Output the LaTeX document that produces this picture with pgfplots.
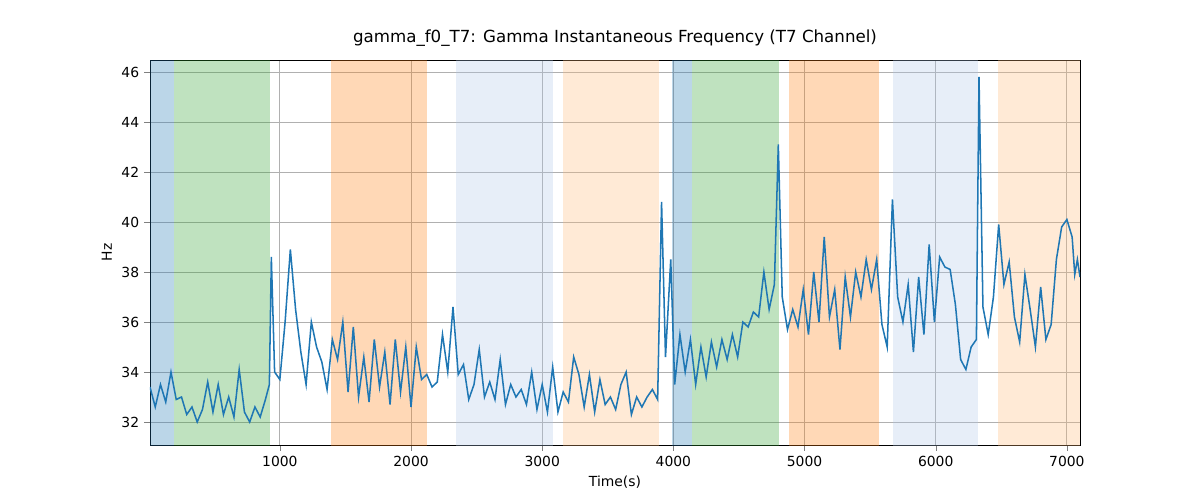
\documentclass[border=0pt]{standalone}
\usepackage{pgfplots}
\pgfplotsset{compat=1.18}
\usepackage{fontspec}
\setmainfont{DejaVu Sans}
\definecolor{tb}{HTML}{1F77B4}
\definecolor{tg}{HTML}{2CA02C}
\definecolor{to}{HTML}{FF7F0E}
\definecolor{lb}{HTML}{AEC7E8}
\definecolor{lo}{HTML}{FFBB78}
\begin{document}
\begin{tikzpicture}
\begin{axis}[at={(0,0)},anchor=south west,scale only axis,width=669.6pt,height=277.2pt,
xmin=10,xmax=7100,ymin=31.08,ymax=46.48,
xtick={1000,2000,3000,4000,5000,6000,7000},ytick={32,34,36,38,40,42,44,46},
grid=major,grid style={color=black!31,line width=0.6pt},
tick label style={font=\fontsize{10}{12}\selectfont},
/pgf/number format/assume math mode=true,
/pgf/number format/set thousands separator={},
xlabel={Time(s)},ylabel={Hz},
label style={font=\fontsize{10}{12}\selectfont},
title={gamma\_f0\_T7: Gamma Instantaneous Frequency (T7 Channel)},
title style={font=\fontsize{12}{14}\selectfont},
tick align=outside,tick pos=left]
\fill[tb,opacity=0.3] (axis cs:10,30) rectangle (axis cs:193,47);
\fill[tg,opacity=0.3] (axis cs:193,30) rectangle (axis cs:924,47);
\fill[to,opacity=0.3] (axis cs:1389,30) rectangle (axis cs:2122,47);
\fill[lb,opacity=0.3] (axis cs:2344,30) rectangle (axis cs:3084,47);
\fill[lo,opacity=0.3] (axis cs:3160,30) rectangle (axis cs:3893,47);
\fill[tb,opacity=0.3] (axis cs:3992,30) rectangle (axis cs:4145,47);
\fill[tg,opacity=0.3] (axis cs:4145,30) rectangle (axis cs:4802,47);
\fill[to,opacity=0.3] (axis cs:4878,30) rectangle (axis cs:5565,47);
\fill[lb,opacity=0.3] (axis cs:5672,30) rectangle (axis cs:6321,47);
\fill[lo,opacity=0.3] (axis cs:6473,30) rectangle (axis cs:7100,47);
\addplot[tb,line width=1.1pt,mark=none] coordinates {
(10,33.4)(50,32.6)(90,33.5)(130,32.8)(170,34.0)(210,32.9)(250,33.0)(290,32.3)(330,32.6)(370,32.0)(410,32.5)(450,33.6)(490,32.4)(530,33.5)(570,32.3)(610,33.0)(650,32.2)(690,34.1)(730,32.4)(770,32.0)(810,32.6)(850,32.2)(890,32.9)(920,33.5)(935,38.6)(960,34.0)(1000,33.7)(1040,36.0)(1080,38.9)(1120,36.5)(1160,34.8)(1200,33.5)(1240,36.0)(1280,35.0)(1320,34.4)(1360,33.3)(1400,35.3)(1440,34.5)(1480,36.0)(1520,33.2)(1560,35.8)(1600,33.0)(1640,34.6)(1680,32.8)(1720,35.3)(1760,33.4)(1800,34.8)(1840,32.7)(1880,35.3)(1920,33.2)(1960,35.0)(2000,32.6)(2040,35.0)(2080,33.7)(2120,33.9)(2160,33.4)(2200,33.6)(2240,35.5)(2280,34.0)(2320,36.6)(2360,33.9)(2400,34.3)(2440,32.9)(2480,33.5)(2520,34.9)(2560,33.0)(2600,33.6)(2640,32.9)(2680,34.5)(2720,32.7)(2760,33.5)(2800,33.0)(2840,33.3)(2880,32.7)(2920,34.0)(2960,32.5)(3000,33.5)(3040,32.4)(3080,34.2)(3120,32.4)(3160,33.2)(3200,32.8)(3240,34.6)(3280,33.9)(3320,32.6)(3360,33.9)(3400,32.4)(3440,33.7)(3480,32.7)(3520,33.0)(3560,32.5)(3600,33.5)(3640,34.0)(3680,32.3)(3720,33.0)(3760,32.6)(3800,33.0)(3840,33.3)(3880,32.9)(3910,40.8)(3940,34.6)(3980,38.5)(4010,33.5)(4050,35.5)(4090,34.0)(4130,35.3)(4170,33.5)(4210,35.0)(4250,33.8)(4290,35.2)(4330,34.2)(4370,35.3)(4410,34.5)(4450,35.5)(4490,34.6)(4530,36.0)(4570,35.8)(4610,36.4)(4650,36.2)(4690,38.0)(4730,36.5)(4770,37.5)(4800,43.1)(4830,37.0)(4870,35.7)(4910,36.5)(4950,35.8)(4990,37.3)(5030,35.5)(5070,38.0)(5110,36.0)(5150,39.4)(5190,36.2)(5230,37.3)(5270,34.9)(5310,37.8)(5350,36.2)(5390,38.0)(5430,37.0)(5470,38.5)(5510,37.3)(5550,38.5)(5590,35.9)(5630,35.0)(5670,40.9)(5710,37.0)(5750,36.0)(5790,37.5)(5830,34.8)(5870,37.8)(5910,35.5)(5950,39.1)(5990,36.0)(6030,38.6)(6070,38.2)(6110,38.1)(6150,36.7)(6190,34.5)(6230,34.1)(6270,35.0)(6310,35.3)(6330,45.8)(6360,36.6)(6400,35.5)(6440,37.0)(6480,39.9)(6520,37.5)(6560,38.4)(6600,36.2)(6640,35.2)(6680,37.9)(6720,36.5)(6760,35.0)(6800,37.4)(6840,35.3)(6880,35.9)(6920,38.5)(6960,39.8)(7000,40.1)(7040,39.4)(7060,37.9)(7080,38.5)(7100,37.8)};
\end{axis}
\useasboundingbox (-108pt,-39.6pt) rectangle (756pt,320.4pt);
\end{tikzpicture}
\end{document}
